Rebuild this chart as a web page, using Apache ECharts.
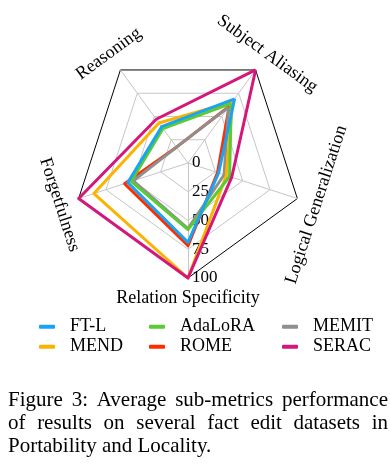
<!DOCTYPE html>
<html><head><meta charset="utf-8">
<script src="https://cdn.jsdelivr.net/npm/echarts@6/dist/echarts.min.js"></script>
<style>html,body{margin:0;padding:0;background:#fff}#c{width:390px;height:467px}</style>
</head><body><div id="c"></div>
<script>
// ---- data ----
const indicators = ['Subject Aliasing', 'Reasoning', 'Forgetfulness', 'Relation Specificity', 'Logical Generalization'];
const tickLabels = [0, 25, 50, 75, 100];
const methods = ['FT-L', 'AdaLoRA', 'MEMIT', 'MEND', 'ROME', 'SERAC'];
const ftL     = [69, 39, 55, 69, 28];
const adaLoRA = [64, 37, 52, 58, 38];
const memit   = [60, 17, 50, 57, 33];
const mend    = [66, 43, 86, 100, 35];
const rome    = [61, 17, 58, 72, 27];
const serac   = [100, 47, 100, 100, 40];
const captionLines = [
  'Figure 3: Average sub-metrics performance',
  'of results on several fact edit datasets in',
  'Portability and Locality.'
];

// ---- styling ----
const FONT = '"Liberation Serif", "Times New Roman", serif';
const colors = {'FT-L':'#1aa3f0','AdaLoRA':'#5acb32','MEMIT':'#8f8f8f','MEND':'#fbb300','ROME':'#ff2c00','SERAC':'#d4177b'};
const values = {'FT-L':ftL,'AdaLoRA':adaLoRA,'MEMIT':memit,'MEND':mend,'ROME':rome,'SERAC':serac};
const drawOrder = ['ROME','MEMIT','MEND','AdaLoRA','FT-L','SERAC'];
const CX = 188, CY = 163, R = 115, START = 54, LABEL_R = 135;

const graphics = [];
// axis names, rotated tangentially
indicators.forEach((name, i) => {
  const deg = START + 360 / indicators.length * i;
  const rad = deg * Math.PI / 180;
  let rot = deg - 90;
  while (rot > 90) rot -= 180;
  while (rot <= -90) rot += 180;
  graphics.push({
    type: 'text', x: CX + LABEL_R * Math.cos(rad), y: CY - LABEL_R * Math.sin(rad),
    rotation: rot * Math.PI / 180,
    style: {text: name, font: '18px ' + FONT, fill: '#000', align: 'center', verticalAlign: 'middle', textAlign: 'center', textVerticalAlign: 'middle'}
  });
});

// justified caption
const cv = document.createElement('canvas').getContext('2d');
const capFont = '21px ' + FONT;
cv.font = capFont;
const capLeft = 8, capRight = 388, capY0 = 400.5, capDy = 23;
captionLines.forEach((line, li) => {
  const words = line.split(' ');
  const widths = words.map(w => cv.measureText(w).width);
  const total = widths.reduce((a, b) => a + b, 0);
  const justify = li < captionLines.length - 1;
  const gap = justify ? (capRight - capLeft - total) / (words.length - 1) : cv.measureText(' ').width;
  let x = capLeft;
  words.forEach((w, wi) => {
    graphics.push({type: 'text', x: x, y: capY0 + li * capDy,
      style: {text: w, font: capFont, fill: '#000', align: 'left', verticalAlign: 'middle', textAlign: 'left', textVerticalAlign: 'middle'}});
    x += widths[wi] + gap;
  });
});

const legendCols = [['FT-L','MEND'], ['AdaLoRA','ROME'], ['MEMIT','SERAC']];
const legendLeft = [39, 149, 282];

const option = {
  animation: false,
  backgroundColor: '#fff',
  radar: {
    center: [CX, CY], radius: R, startAngle: START, splitNumber: 4, shape: 'polygon',
    indicator: indicators.map((n, i) => ({name: n, min: 0, max: 100,
      axisLabel: {show: i === 3}})),
    axisName: {show: false},
    axisLine: {lineStyle: {color: '#c6c6c6', width: 1}},
    splitLine: {lineStyle: {color: ['#c6c6c6','#c6c6c6','#c6c6c6','#c6c6c6','#000'], width: 1}},
    splitArea: {show: false},
    axisTick: {show: false},
    axisLabel: {show: false, color: '#000', fontSize: 17, fontFamily: FONT, margin: 4,
      formatter: v => String(tickLabels[tickLabels.indexOf(v)] ?? v)}
  },
  legend: legendCols.map((col, k) => ({
    data: col, left: legendLeft[k], top: 316.7, orient: 'vertical', padding: 0, itemGap: 0,
    itemWidth: 16, itemHeight: 4, icon: 'roundRect', selectedMode: false,
    textStyle: {fontFamily: FONT, fontSize: 18, lineHeight: 20, color: '#000', padding: [0, 0, 0, 10]}
  })),
  series: drawOrder.map(m => ({
    type: 'radar', name: m, symbol: 'none',
    lineStyle: {width: 3, color: colors[m]},
    itemStyle: {color: colors[m]},
    data: [{name: m, value: values[m]}]
  })),
  graphic: graphics
};
const chart = echarts.init(document.getElementById('c'), null, {renderer: 'canvas'});
chart.setOption(option);
</script></body></html>
